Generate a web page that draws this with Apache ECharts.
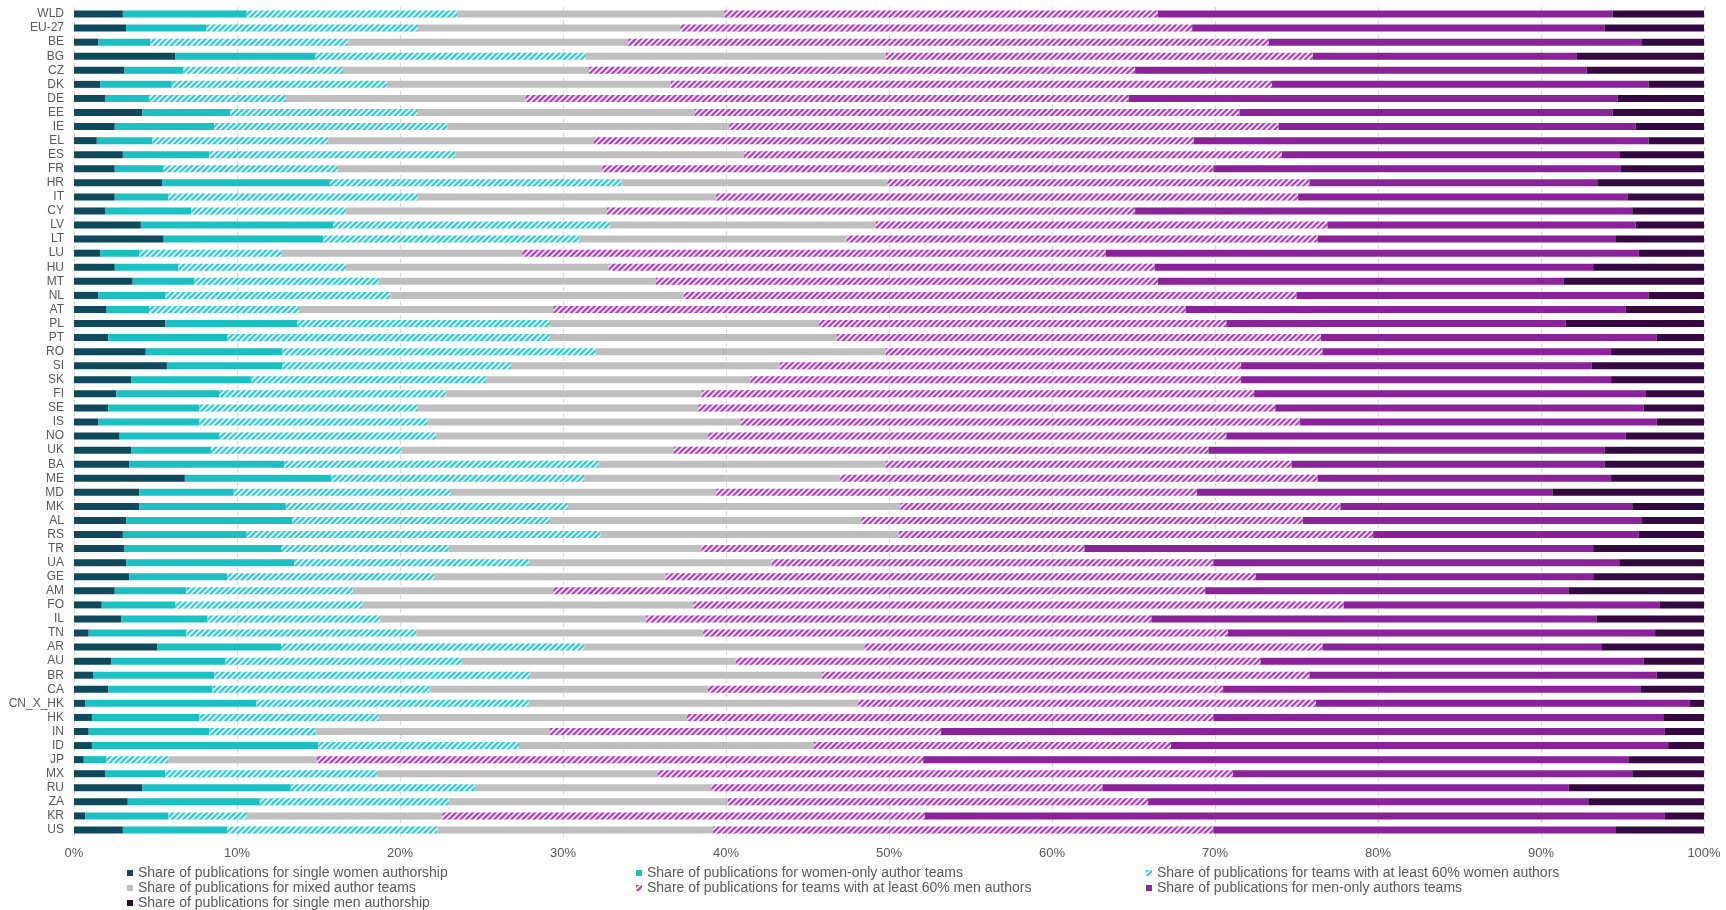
<!DOCTYPE html>
<html>
<head>
<meta charset="utf-8">
<script src="https://cdn.jsdelivr.net/npm/echarts@6/dist/echarts.min.js"></script>
<style>
  html, body { margin: 0; padding: 0; background: #fff; }
  #myChart { width: 1726px; height: 910px; }
</style>
</head>
<body>
<div id="myChart"></div>
<script>
// countries, top to bottom
const categories = ['WLD', 'EU-27', 'BE', 'BG', 'CZ', 'DK', 'DE', 'EE', 'IE', 'EL', 'ES', 'FR', 'HR', 'IT', 'CY', 'LV', 'LT', 'LU', 'HU', 'MT', 'NL', 'AT', 'PL', 'PT', 'RO', 'SI', 'SK', 'FI', 'SE', 'IS', 'NO', 'UK', 'BA', 'ME', 'MD', 'MK', 'AL', 'RS', 'TR', 'UA', 'GE', 'AM', 'FO', 'IL', 'TN', 'AR', 'AU', 'BR', 'CA', 'CN_X_HK', 'HK', 'IN', 'ID', 'JP', 'MX', 'RU', 'ZA', 'KR', 'US'];

// shares in %, same order as categories
const singleWomen = [3.0, 3.2, 1.5, 6.2, 3.1, 1.6, 1.9, 4.2, 2.5, 1.4, 3.0, 2.5, 5.4, 2.5, 1.9, 4.1, 5.5, 1.6, 2.5, 3.6, 1.5, 2.0, 5.6, 2.1, 4.4, 5.7, 3.5, 2.6, 2.1, 1.5, 2.8, 3.5, 3.4, 6.8, 4.0, 4.0, 3.2, 3.0, 3.1, 3.2, 3.4, 2.5, 1.7, 2.9, 0.9, 5.1, 2.3, 1.2, 2.1, 0.7, 1.1, 0.9, 1.1, 0.6, 1.9, 4.2, 3.3, 0.7, 3.0];
const womenOnly = [7.6, 4.9, 3.2, 8.6, 3.6, 4.4, 2.7, 5.4, 6.1, 3.4, 5.3, 3.0, 10.3, 3.3, 5.3, 11.8, 9.8, 2.4, 3.9, 3.8, 4.1, 2.6, 8.1, 7.3, 8.4, 7.1, 7.4, 6.3, 5.6, 6.2, 6.1, 4.9, 9.5, 9.0, 5.8, 9.0, 10.2, 7.6, 9.6, 10.3, 6.0, 4.4, 4.5, 5.3, 6.0, 7.6, 7.0, 7.4, 6.4, 10.5, 6.6, 7.4, 13.9, 1.4, 3.7, 9.1, 8.1, 5.1, 6.4];
const women60 = [12.9, 13.0, 12.1, 16.6, 9.8, 13.2, 8.4, 11.5, 14.3, 10.8, 15.1, 10.7, 17.9, 15.3, 9.5, 17.0, 15.7, 8.7, 10.3, 11.3, 13.8, 9.2, 15.5, 19.8, 19.2, 14.0, 14.4, 13.9, 13.4, 14.0, 13.3, 11.7, 19.3, 15.5, 13.3, 17.3, 15.8, 21.7, 10.3, 14.4, 12.7, 10.2, 11.5, 10.6, 14.1, 18.6, 14.5, 19.4, 13.3, 16.7, 11.0, 6.5, 12.3, 3.8, 13.0, 11.3, 11.6, 4.8, 12.9];
const mixed = [16.4, 16.1, 17.2, 18.4, 15.1, 17.4, 14.7, 17.0, 17.3, 16.3, 17.7, 16.2, 16.3, 18.3, 16.0, 16.3, 16.4, 14.8, 16.1, 17.0, 18.0, 15.6, 16.5, 17.6, 17.8, 16.5, 16.2, 15.7, 17.2, 19.2, 16.7, 16.7, 17.6, 15.7, 16.3, 20.4, 19.1, 18.3, 15.5, 14.9, 14.2, 12.3, 20.3, 16.3, 17.6, 17.2, 16.8, 17.9, 17.1, 20.2, 18.9, 14.4, 18.1, 9.1, 17.2, 14.5, 17.1, 12.0, 16.9];
const men60 = [26.6, 31.4, 39.3, 26.2, 33.5, 36.9, 37.0, 33.4, 33.7, 36.8, 33.0, 37.5, 25.9, 35.7, 32.4, 27.7, 28.9, 35.8, 33.5, 30.8, 37.6, 38.8, 25.0, 29.7, 26.8, 28.3, 30.1, 33.9, 35.4, 34.3, 31.8, 32.8, 24.9, 29.3, 29.5, 27.0, 27.1, 29.1, 23.5, 27.1, 36.2, 40.0, 39.9, 31.0, 32.2, 28.1, 32.2, 29.9, 31.6, 28.1, 32.3, 24.0, 21.9, 37.2, 35.3, 24.0, 25.8, 29.6, 30.7];
const menOnly = [27.9, 25.3, 22.9, 16.2, 27.7, 23.1, 30.0, 22.9, 21.9, 27.9, 20.7, 25.0, 17.7, 20.2, 30.5, 18.9, 18.3, 32.7, 26.9, 24.9, 21.6, 27.0, 20.8, 20.6, 17.7, 21.5, 22.7, 24.0, 22.6, 21.9, 24.5, 24.3, 19.2, 18.0, 21.8, 17.9, 20.8, 16.3, 31.2, 24.9, 20.7, 22.3, 19.4, 27.3, 26.2, 17.1, 23.5, 21.3, 25.6, 22.9, 27.6, 44.4, 30.5, 43.3, 24.5, 28.6, 27.0, 45.4, 24.7];
const singleMen = [5.6, 6.1, 3.8, 7.8, 7.2, 3.4, 5.3, 5.6, 4.2, 3.4, 5.2, 5.1, 6.5, 4.7, 4.4, 4.2, 5.4, 4.0, 6.8, 8.6, 3.4, 4.8, 8.5, 2.9, 5.7, 6.9, 5.7, 3.6, 3.7, 2.9, 4.8, 6.1, 6.1, 5.7, 9.3, 4.4, 3.8, 4.0, 6.8, 5.2, 6.8, 8.3, 2.7, 6.6, 3.0, 6.3, 3.7, 2.9, 3.9, 0.9, 2.5, 2.4, 2.2, 4.6, 4.4, 8.3, 7.1, 2.4, 5.4];

const xTicks = [0, 10, 20, 30, 40, 50, 60, 70, 80, 90, 100];

const seriesNames = [
  'Share of publications for single women authorship',
  'Share of publications for women-only author teams',
  'Share of publications for teams with at least 60% women authors',
  'Share of publications for mixed author teams',
  'Share of publications for teams with at least 60% men authors',
  'Share of publications for men-only authors teams',
  'Share of publications for single men authorship'
];

const FONT = '"Liberation Sans", Arial, sans-serif';

// diagonal stripes, going up to the right
function hatch(color) {
  return {
    symbol: 'rect',
    symbolSize: 1,
    color: color,
    dashArrayX: [1, 0],
    dashArrayY: [1.2, 1.8],
    rotation: -Math.PI / 4
  };
}

function bar(name, data, color, decal) {
  const s = {
    name: name,
    type: 'bar',
    stack: 'total',
    barWidth: 7,
    data: data,
    itemStyle: { color: color }
  };
  if (decal) s.itemStyle.decal = decal;
  return s;
}

let myChart = echarts.init(document.getElementById('myChart'), null, { renderer: 'canvas' });

const legendText = { color: '#595959', fontSize: 14, fontFamily: FONT, lineHeight: 14 };

function legendCol(left, names) {
  return {
    left: left, top: 866, height: 60, orient: 'vertical', itemGap: 1,
    itemWidth: 6, itemHeight: 6, icon: 'rect', padding: 0,
    textStyle: legendText, data: names
  };
}

let option = {
  backgroundColor: '#ffffff',
  animation: false,
  grid: { left: 74, right: 22, top: 7, bottom: 73 },
  legend: [
    legendCol(127, [seriesNames[0], seriesNames[3], seriesNames[6]]),
    legendCol(636, [seriesNames[1], seriesNames[4]]),
    legendCol(1146, [seriesNames[2], seriesNames[5]])
  ],
  xAxis: {
    type: 'value',
    min: xTicks[0],
    max: xTicks[xTicks.length - 1],
    interval: 10,
    axisLine: { show: false },
    axisTick: { show: false },
    axisLabel: { formatter: '{value}%', color: '#595959', fontSize: 13, fontFamily: FONT, margin: 10 },
    splitLine: { show: true, lineStyle: { color: '#d9d9d9', type: [4, 3], width: 1 } }
  },
  yAxis: {
    type: 'category',
    inverse: true,
    data: categories,
    axisLine: { show: false },
    axisTick: { show: false },
    axisLabel: { color: '#595959', fontSize: 12, fontFamily: FONT, margin: 10, interval: 0 }
  },
  series: [
    bar(seriesNames[0], singleWomen, '#0e4a5b'),
    bar(seriesNames[1], womenOnly, '#1cbfc2'),
    bar(seriesNames[2], women60, '#d2f3f4', hatch('#35c7cb')),
    bar(seriesNames[3], mixed, '#bfbfbf'),
    bar(seriesNames[4], men60, '#f1d6f4', hatch('#a443b4')),
    bar(seriesNames[5], menOnly, '#8a2299'),
    bar(seriesNames[6], singleMen, '#34093f')
  ]
};

myChart.setOption(option);
</script>
</body>
</html>
